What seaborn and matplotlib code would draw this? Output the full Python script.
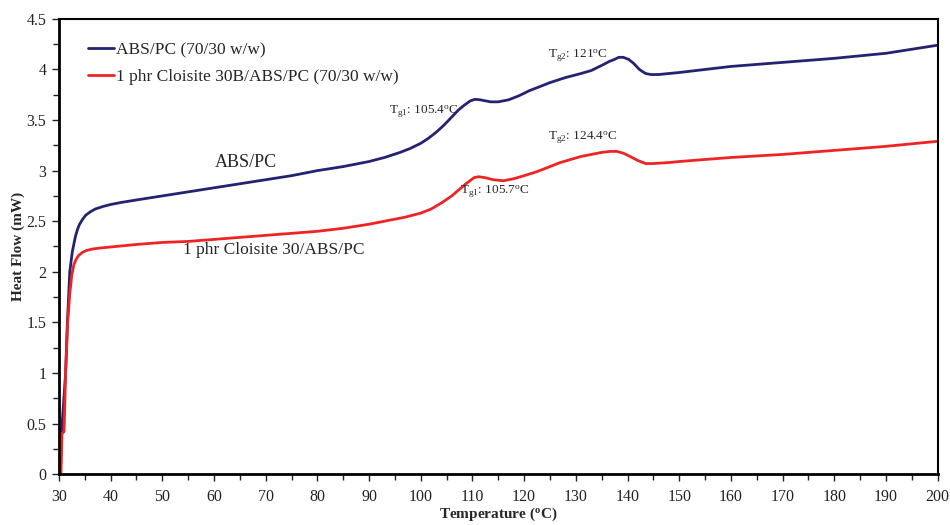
import pandas as pd
import matplotlib
matplotlib.use("Agg")
import matplotlib.pyplot as plt
import seaborn as sns
from matplotlib.ticker import MultipleLocator, FuncFormatter

sns.set_style("ticks")
plt.rcParams['font.family'] = ['Liberation Serif', 'DejaVu Serif']
plt.rcParams['mathtext.fontset'] = 'custom'
plt.rcParams['mathtext.rm'] = 'Liberation Serif'
plt.rcParams['mathtext.it'] = 'Liberation Serif'
plt.rcParams['mathtext.default'] = 'regular'

# --- data ---
abs_pc_temp = [30.2, 30.5, 30.9, 31.3, 31.6, 32.1, 32.6, 33.2, 33.6, 34.0, 34.6, 35.2,
               36.0, 37.0, 38.5, 40, 42, 45, 50, 55, 60, 65, 70, 75, 80, 85, 90, 93,
               96, 98, 100, 101.5, 103, 104.5, 106, 107.3, 108.5, 109.6, 110.5, 111.5,
               112.5, 113.5, 115, 117, 119, 121, 123, 125, 128, 131, 133, 135, 136.5,
               137.5, 138.3, 139.2, 140.2, 141.2, 142.3, 143.5, 144.5, 146, 150, 155,
               160, 170, 180, 190, 200]
abs_pc_flow = [0, 0.4, 0.7, 1.0, 1.45, 2.0, 2.2, 2.35, 2.42, 2.47, 2.52, 2.56,
               2.59, 2.62, 2.645, 2.665, 2.685, 2.71, 2.75, 2.79, 2.83, 2.87, 2.91,
               2.95, 3.0, 3.04, 3.09, 3.13, 3.18, 3.22, 3.27, 3.32, 3.38, 3.45, 3.53,
               3.60, 3.65, 3.69, 3.705, 3.70, 3.69, 3.68, 3.68, 3.70, 3.74, 3.79, 3.83,
               3.87, 3.92, 3.96, 3.99, 4.04, 4.08, 4.10, 4.12, 4.12, 4.10, 4.06, 4.00,
               3.96, 3.95, 3.95, 3.97, 4.00, 4.03, 4.07, 4.11, 4.16, 4.24]

clay_temp = [30.4, 30.6, 31.0, 31.3, 31.7, 32.1, 32.5, 32.9, 33.3, 33.8, 34.5, 35.3,
             36.5, 38, 40, 45, 50, 55, 60, 65, 70, 75, 80, 85, 90, 94, 97, 100, 102,
             104, 106, 107.6, 109, 110.3, 111.2, 112.5, 114, 116, 118, 120, 122.5,
             125, 127, 129, 131, 133, 135, 136.7, 138, 139.3, 140.5, 142, 143.5, 145,
             148, 150, 155, 160, 170, 180, 190, 200]
clay_flow = [0, 0.4, 0.42, 1.0, 1.5, 1.78, 1.97, 2.07, 2.12, 2.16, 2.19, 2.21,
             2.225, 2.235, 2.245, 2.27, 2.29, 2.30, 2.32, 2.34, 2.36, 2.38, 2.40,
             2.43, 2.47, 2.51, 2.54, 2.58, 2.62, 2.68, 2.75, 2.82, 2.88, 2.93, 2.94,
             2.93, 2.91, 2.90, 2.92, 2.95, 2.99, 3.04, 3.08, 3.11, 3.14, 3.16, 3.18,
             3.19, 3.19, 3.17, 3.14, 3.10, 3.07, 3.07, 3.08, 3.09, 3.11, 3.13, 3.16,
             3.20, 3.24, 3.29]

series_labels = ["ABS/PC (70/30 w/w)", "1 phr Cloisite 30B/ABS/PC (70/30 w/w)"]

df_a = pd.DataFrame({'temp': abs_pc_temp, 'flow': abs_pc_flow})
df_c = pd.DataFrame({'temp': clay_temp, 'flow': clay_flow})

fig = plt.figure(figsize=(9.5, 5.25), dpi=100)
ax = fig.add_axes([0.062, 0.097, 0.925, 0.867])

sns.lineplot(data=df_a, x='temp', y='flow', ax=ax, color='#232372', lw=2,
             label=series_labels[0], estimator=None, sort=False)
sns.lineplot(data=df_c, x='temp', y='flow', ax=ax, color='#ee2424', lw=2,
             label=series_labels[1], estimator=None, sort=False)

ax.set_xlim(30, 200)
ax.set_ylim(0, 4.5)
ax.xaxis.set_major_locator(MultipleLocator(10))
ax.xaxis.set_minor_locator(MultipleLocator(5))
ax.yaxis.set_major_locator(MultipleLocator(0.5))
ax.yaxis.set_minor_locator(MultipleLocator(0.25))
ax.yaxis.set_major_formatter(FuncFormatter(lambda v, p: "%g" % v))
ax.tick_params(which='both', direction='out', top=False, right=False,
               labelsize=11.5, colors='#222222', width=1)
ax.tick_params(axis='x', which='major', length=5, pad=6)
ax.tick_params(axis='y', which='major', length=5, pad=4)
ax.tick_params(which='minor', length=4)
for side in ['left', 'bottom']:
    ax.spines[side].set_linewidth(2)
for side in ['top', 'right']:
    ax.spines[side].set_linewidth(1.5)
for sp in ax.spines.values():
    sp.set_color('black')

ax.set_xlabel("Temperature ($^{o}$C)", fontsize=11, fontweight='bold', labelpad=0.5)
ax.set_ylabel("Heat Flow (mW)", fontsize=11, fontweight='bold', labelpad=1)

leg = ax.legend(loc='upper left', frameon=False, fontsize=12.5, handlelength=1.5,
                handletextpad=0.15, borderaxespad=0.0, labelspacing=0.65,
                bbox_to_anchor=(0.025, 0.965))

# curve labels
ax.text(66.2, 3.08, "ABS/PC", fontsize=13, ha='center', va='center')
ax.text(54, 2.22, "1 phr Cloisite 30/ABS/PC", fontsize=12.5, ha='left', va='center')
ax.text(93.8, 3.58, "T$_{g1}$: 105.4$^{o}$C", fontsize=9.5, ha='left', va='center')
ax.text(107.6, 2.79, "T$_{g1}$: 105.7$^{o}$C", fontsize=9.5, ha='left', va='center')
ax.text(124.6, 4.13, "T$_{g2}$: 121$^{o}$C", fontsize=9.5, ha='left', va='center')
ax.text(124.6, 3.32, "T$_{g2}$: 124.4$^{o}$C", fontsize=9.5, ha='left', va='center')

plt.savefig("out.png", dpi=100)
